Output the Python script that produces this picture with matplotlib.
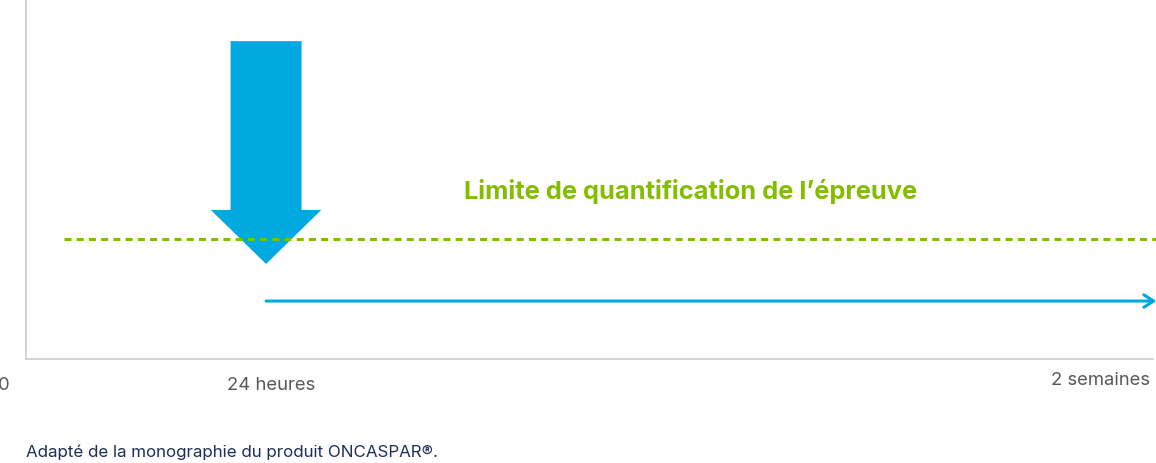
import matplotlib.pyplot as plt
from matplotlib.transforms import ScaledTranslation, blended_transform_factory

# schematic positions (axis units 0-100)
tick_pos = [0, 21.3, 100]
tick_labels = ["0", "24 heures", "2 semaines"]

dose_x = 21.3            # injection at 24 h
dose_top = 88.3
dose_tip = 26.4
dose_head_base = 41.4

loq_y = 33.3             # limit of quantification
loq_x = [3.4, 100.3]
loq_label = "Limite de quantification de l\u2019\u00e9preuve"

below_y = 16.1           # level stays below limit
below_x = [21.3, 100.3]

footnote = "Adapt\u00e9 de la monographie du produit ONCASPAR\u00ae."

BLUE = "#00a9e0"
GREEN = "#84bd00"
GREY = "#cccccc"
TXT = "#58595b"
NAVY = "#1b2f5b"

plt.rcParams['font.family'] = ['Inter', 'DejaVu Sans']

fig = plt.figure(figsize=(11.56, 4.64), dpi=100)
ax = fig.add_axes([26 / 1156, 104 / 464, 1127 / 1156, 360 / 464])
ax.set_xlim(0, 100)
ax.set_ylim(0, 100)

for s in ["top", "right"]:
    ax.spines[s].set_visible(False)
for s in ["left", "bottom"]:
    ax.spines[s].set_color(GREY)
    ax.spines[s].set_linewidth(1.2)
ax.set_yticks([])
ax.set_xticks([])

# dotted limit line
ax.plot(loq_x, [loq_y, loq_y], color=GREEN, lw=2.2,
        linestyle=(0, (2.3, 1.7)), clip_on=False, zorder=2)

# big dose arrow
ax.arrow(dose_x, dose_top, 0, dose_tip - dose_top, width=6.3, head_width=9.8,
         head_length=dose_head_base - dose_tip, length_includes_head=True,
         color=BLUE, linewidth=0, zorder=1)

# level line with open arrow head
ax.annotate("", xy=(below_x[1], below_y), xytext=(below_x[0], below_y),
            arrowprops=dict(arrowstyle="->,head_length=0.7,head_width=0.45",
                            color=BLUE, lw=2.2, shrinkA=0, shrinkB=0),
            annotation_clip=False)

ax.text(59.0, 46.9, loq_label, color=GREEN, fontsize=18.3, fontweight="bold",
        ha="center", va="center")

# x labels: data x, offset in pixels below the axis
base = blended_transform_factory(ax.transData, ax.transAxes)
offsets = [(-16, -26, "right"), (5, -26, "center"), (-3, -21, "right")]
for pos, lab, (dx, dy, ha) in zip(tick_pos, tick_labels, offsets):
    tr = base + ScaledTranslation(dx / 100, dy / 100, fig.dpi_scale_trans)
    ax.text(pos, 0, lab, transform=tr, fontsize=13.3, color=TXT,
            ha=ha, va="center", clip_on=False)

fig.text(26 / 1156, 1 - 452 / 464, footnote, fontsize=12.2, color=NAVY,
         ha="left", va="center")

fig.savefig("out.png", dpi=100)
